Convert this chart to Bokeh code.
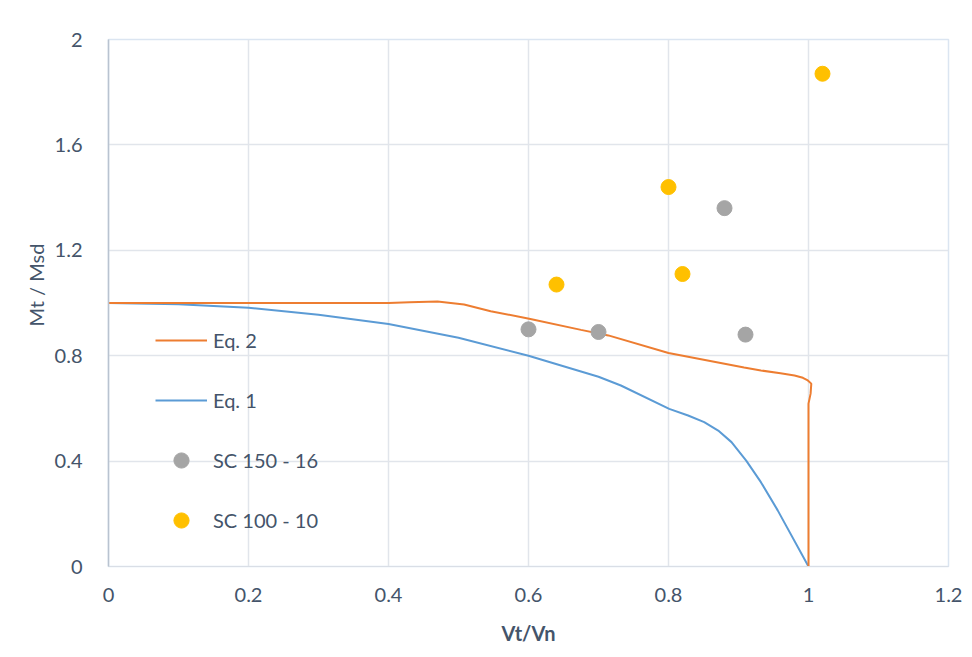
from bokeh.plotting import figure
from bokeh.models import Legend, LegendItem, Title, FixedTicker, Range1d
from bokeh.embed import file_html
from bokeh.resources import INLINE

# ---- data ----
eq1_x = [0, 0.1, 0.2, 0.3, 0.4, 0.5, 0.6, 0.7, 0.732, 0.801, 0.828, 0.851, 0.871, 0.89, 0.911, 0.932, 0.956, 1.0]
eq1_y = [1.0, 0.995, 0.982, 0.955, 0.92, 0.868, 0.80, 0.72, 0.687, 0.598, 0.573, 0.548, 0.516, 0.472, 0.402, 0.32, 0.213, 0.0]

eq2_x = [0, 0.2, 0.4, 0.43, 0.47, 0.508, 0.546, 0.601, 0.675, 0.714, 0.8, 0.908, 0.932, 0.96, 0.98, 0.992, 0.999, 1.004, 1.003, 1.0, 1.0]
eq2_y = [1.0, 1.0, 1.0, 1.003, 1.006, 0.994, 0.969, 0.94, 0.898, 0.877, 0.81, 0.755, 0.744, 0.733, 0.725, 0.716, 0.706, 0.694, 0.656, 0.618, 0.0]

sc150_x = [0.60, 0.70, 0.88, 0.91]
sc150_y = [0.90, 0.89, 1.36, 0.88]

sc100_x = [0.64, 0.80, 0.82, 1.02]
sc100_y = [1.07, 1.44, 1.11, 1.87]

x_ticks = [0, 0.2, 0.4, 0.6, 0.8, 1.0, 1.2]
x_tick_labels = ["0", "0.2", "0.4", "0.6", "0.8", "1", "1.2"]
y_ticks = [0, 0.4, 0.8, 1.2, 1.6, 2.0]
y_tick_labels = ["0", "0.4", "0.8", "1.2", "1.6", "2"]

FONT = "Lato"
TXT = "#44546a"
FS = "20px"

p = figure(width=972, height=657, output_backend="svg", toolbar_location=None,
           x_range=Range1d(0, 1.2), y_range=Range1d(0, 2.0),
           min_border_left=108, min_border_right=24, min_border_top=39, min_border_bottom=91)
p.background_fill_color = "white"
p.border_fill_color = "white"
p.outline_line_color = "#dbe5f1"
p.outline_line_width = 1.5

for ax in (p.xaxis[0], p.yaxis[0]):
    ax.major_tick_line_color = None
    ax.minor_tick_line_color = None
    ax.major_label_text_font = FONT
    ax.major_label_text_font_size = FS
    ax.major_label_text_color = TXT

p.xaxis.ticker = FixedTicker(ticks=x_ticks)
p.yaxis.ticker = FixedTicker(ticks=y_ticks)
p.xaxis.major_label_overrides = {t: l for t, l in zip(x_ticks, x_tick_labels)}
p.yaxis.major_label_overrides = {t: l for t, l in zip(y_ticks, y_tick_labels)}
p.xaxis.axis_line_color = "#d9dee6"
p.yaxis.axis_line_color = "#b9c3d0"
p.yaxis.axis_line_width = 1.5
p.xaxis.major_label_standoff = 15
p.yaxis.major_label_standoff = 20

p.xaxis.axis_label = "Vt/Vn"
p.xaxis.axis_label_text_font = FONT
p.xaxis.axis_label_text_font_style = "bold"
p.xaxis.axis_label_text_font_size = FS
p.xaxis.axis_label_text_color = TXT
p.xaxis.axis_label_standoff = 16

p.grid.grid_line_color = "#e1e5eb"
p.grid.grid_line_width = 1.5

r_eq1 = p.line(eq1_x, eq1_y, line_color="#5b9bd5", line_width=2)
r_eq2 = p.line(eq2_x, eq2_y, line_color="#ed7d31", line_width=2)
r_150 = p.scatter(sc150_x, sc150_y, size=15, fill_color="#a5a5a5", line_color="#a5a5a5")
r_100 = p.scatter(sc100_x, sc100_y, size=15, fill_color="#ffc000", line_color="#ffc000")

legend = Legend(items=[
    LegendItem(label="Eq. 2", renderers=[r_eq2]),
    LegendItem(label="Eq. 1", renderers=[r_eq1]),
    LegendItem(label="SC 150 - 16", renderers=[r_150]),
    LegendItem(label="SC 100 - 10", renderers=[r_100]),
], location=(47, 27), orientation="vertical")
legend.glyph_width = 52
legend.glyph_height = 38
legend.label_height = 20
legend.spacing = 22
legend.padding = 0
legend.margin = 0
legend.label_standoff = 6
legend.border_line_color = None
legend.background_fill_alpha = 0
legend.label_text_font = FONT
legend.label_text_font_size = FS
legend.label_text_color = TXT
p.add_layout(legend, "center")

ytitle = Title(text="Mt / Msd", align="left", offset=240, standoff=8,
               text_font=FONT, text_font_size=FS, text_font_style="normal",
               text_color=TXT)
p.add_layout(ytitle, "left")

open("out.html", "w").write(file_html(p, INLINE))
